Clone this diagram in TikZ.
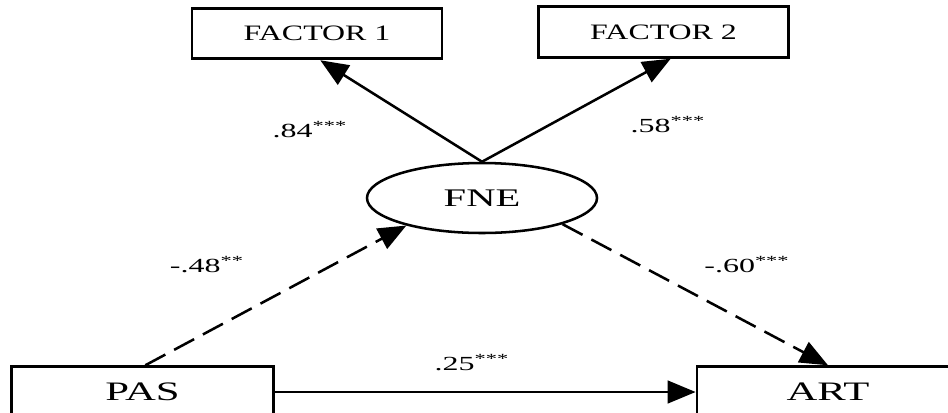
\documentclass[tikz,border=0pt]{standalone}
\usepackage{fontspec}
\setmainfont{Liberation Serif}
\usetikzlibrary{arrows.meta,shapes.geometric}

\newcommand{\widetxt}[2][1.6]{\scalebox{#1}[1]{#2}}
\newcommand{\facfont}{\fontsize{16.5}{19}\selectfont}
\newcommand{\latfont}{\fontsize{19}{22}\selectfont}
\newcommand{\obsfont}{\fontsize{20}{24}\selectfont}
\newcommand{\coeffont}{\fontsize{15}{18}\selectfont}

\tikzset{every picture/.style={line width=1.9pt}}
\tikzset{
  varbox/.style={draw,line width=2.1pt,inner sep=0pt,minimum width=#1,minimum height=38pt},
  latent/.style={draw,ellipse,inner sep=0pt,minimum width=172.5pt,minimum height=52.5pt,font=\latfont},
  regr/.style={-{Triangle[length=21pt,width=17pt]}},
  mediated/.style={regr,dash pattern=on 17pt off 7.5pt},
  coef/.style={inner sep=0.75pt,font=\coeffont}
}

\begin{document}
\begin{tikzpicture}[x=0.75pt,y=0.75pt,yscale=-1,xscale=1]
\path[use as bounding box,clip] (0,0) rectangle (948,412);

%Shape: Rectangle (factor boxes)
\node[varbox=187.5pt,font=\facfont] (factorA) at (317,33.5) {\widetxt[1.45]{FACTOR 1}};
\node[varbox=188pt,font=\facfont] (factorB) at (663.5,32) {\widetxt[1.45]{FACTOR 2}};
%Shape: Ellipse
\node[latent] (fne) at (482,198) {\widetxt{FNE}};
%Shape: Rectangle (observed)
\node[varbox=196pt,font=\obsfont] (pas) at (142.5,392) {\widetxt{PAS}};
\node[varbox=196.5pt,font=\obsfont] (art) at (828,392) {\widetxt{ART}};

%Straight Lines
\draw[regr] (fne.north) -- (factorA.-83);
\draw[regr] (fne.north) -- (factorB.-75);
\draw[mediated] (pas.84) -- (fne.200);
\draw[mediated] (fne.-18) -- (art.north);
\draw[regr] (pas.east) -- (art.west);

% Text Node
\node[coef] (c84) at (310,130) {\widetxt{.84\textsuperscript{***}}};
% Text Node
\node[coef] (c58) at (668,125) {\widetxt{.58\textsuperscript{***}}};
% Text Node
\node[coef] (c48) at (207,265) {\widetxt{-.48\textsuperscript{**}}};
% Text Node
\node[coef] (c60) at (747,265) {\widetxt{-.60\textsuperscript{***}}};
% Text Node
\node[coef] (c25) at (472,363) {\widetxt{.25\textsuperscript{***}}};

\end{tikzpicture}
\end{document}
